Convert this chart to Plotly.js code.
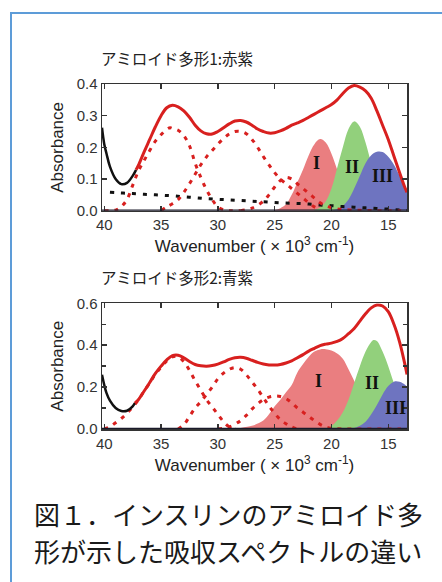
<!DOCTYPE html>
<html><head><meta charset="utf-8">
<script src="https://cdn.plot.ly/plotly-3.0.1.min.js"></script>
<style>
html,body{margin:0;padding:0;background:#fff;}
#wrap{position:relative;width:442px;height:582px;overflow:hidden;}
#chart{position:absolute;left:0;top:0;width:442px;height:582px;}
#frame{position:absolute;left:10px;top:12px;width:460px;height:600px;border-left:2px solid #5d9cd8;border-top:2px solid #5d9cd8;pointer-events:none;}
</style></head>
<body><div id="wrap"><div id="chart"></div><div id="frame"></div></div>
<script>
// ---------- Data: polymorph 1 (赤紫) ----------
const p1TotalBlackX = [40.2,40,39.8,39.5,39,38.5,38,37.5,37.2];
const p1TotalBlackY = [.262,.21,.18,.139,.1,.084,.088,.11,.129];
const p1TotalRedX = [37.2,37,36.5,36,35.5,35,34.5,34,33.5,33,32.5,32,31.5,31,30.5,30,29.5,29,28.5,28,27.5,27,26.5,26,25.5,25,24.5,24,23.5,23,22.5,22,21.5,21,20.5,20,19.5,19,18.5,18,17.5,17,16.5,16,15.5,15,14.5,14,13.5,13.35];
const p1TotalRedY = [.129,.143,.185,.225,.265,.30,.325,.333,.328,.315,.295,.27,.252,.243,.242,.25,.262,.274,.283,.285,.28,.27,.258,.25,.245,.246,.252,.26,.27,.277,.285,.295,.305,.315,.325,.335,.35,.37,.387,.395,.39,.378,.355,.315,.27,.225,.172,.12,.07,.058];
const p1AX = [40,39,38.5,38,37.5,37,36.5,36,35.5,35,34.5,34.2,34,33.5,33,32.5,32,31.5,31,30.5,30,29.5,29,28];
const p1AY = [0,.002,.013,.035,.08,.125,.158,.19,.22,.24,.257,.262,.26,.254,.237,.205,.15,.105,.066,.035,.012,.003,0,0];
const p1BX = [35,34.5,34,33.5,33,32.5,32,31.5,31,30.5,30,29.5,29,28.5,28,27.5,27,26.5,26,25.5,25,24.5,24,23.5,23,22.5,22,21.5,21];
const p1BY = [0,.012,.022,.035,.058,.085,.115,.145,.17,.19,.21,.228,.242,.25,.25,.243,.225,.2,.171,.145,.12,.1,.085,.07,.055,.04,.025,.012,.005];
const p1CX = [28,27,26,25.5,25,24.5,24,23.5,23,22.5,22,21.5,21,20.5,20,19.5,19,18,17,16,15,14,13.35];
const p1CY = [0,.008,.03,.05,.075,.095,.105,.1,.085,.07,.055,.04,.025,.015,.01,.006,.004,.002,.001,0,0,0,0];
const p1BaseX = [39.5,39,38,37,36,35,34,33,32,31,30,29,28,27,26,25,24,23,22,21,20,19,18,17,16,15,14,13.35];
const p1BaseY = [.058,.057,.055,.053,.051,.049,.047,.044,.041,.038,.036,.034,.032,.03,.028,.026,.024,.023,.021,.018,.016,.013,.011,.009,.007,.005,.002,0];
const p1IX = [25,24.5,24,23.5,23,22.5,22,21.5,21,20.5,20,19.5,19,18.5,18,17.5,17];
const p1IY = [.002,.008,.02,.05,.09,.13,.175,.21,.226,.215,.18,.13,.08,.04,.015,.005,0];
const p1IIX = [21.5,21,20.5,20,19.5,19,18.5,18,17.5,17,16.5,16,15.5,15,14.5,14,13.35];
const p1IIY = [.002,.01,.03,.07,.135,.2,.258,.282,.265,.215,.15,.09,.045,.018,.006,.001,0];
const p1IIIX = [20,19.5,19,18.5,18,17.5,17,16.5,16,15.5,15,14.5,14,13.5,13.35];
const p1IIIY = [0,.005,.015,.035,.07,.11,.15,.175,.186,.185,.17,.145,.11,.075,.065];

// ---------- Data: polymorph 2 (青紫) ----------
const p2TotalBlackX = [40.2,40,39.8,39.5,39,38.5,38,37.5,37.3];
const p2TotalBlackY = [.259,.21,.171,.135,.1,.086,.087,.108,.124];
const p2TotalRedX = [37.3,37,36.5,36,35.5,35,34.5,34,33.5,33,32.5,32,31.5,31,30.5,30,29.5,29,28.5,28,27.5,27,26.5,26,25.5,25,24.5,24,23.5,23,22.5,22,21.5,21,20.5,20,19.5,19,18.5,18,17.5,17,16.5,16,15.5,15,14.5,14,13.5,13.35];
const p2TotalRedY = [.124,.14,.18,.222,.265,.3,.33,.35,.352,.34,.322,.308,.302,.3,.303,.31,.32,.332,.34,.342,.338,.328,.318,.31,.306,.305,.308,.315,.325,.34,.355,.372,.385,.398,.405,.41,.418,.432,.455,.48,.515,.55,.578,.592,.587,.56,.5,.415,.3,.26];
const p2AX = [40,39.5,39,38.5,38,37.5,37,36.5,36,35.5,35,34.5,34,33.5,33,32.5,32,31.5,31,30.5,30,29.5,29,28.5];
const p2AY = [0,.01,.03,.05,.075,.105,.14,.18,.22,.262,.295,.325,.345,.345,.322,.28,.23,.185,.14,.105,.07,.035,.01,0];
const p2BX = [33.5,33,32.5,32,31.5,31,30.5,30,29.5,29,28.5,28,27.5,27,26.5,26,25.5,25,24.5,24,23.5,23];
const p2BY = [0,.02,.06,.1,.13,.165,.2,.24,.267,.285,.293,.285,.259,.225,.19,.15,.11,.075,.045,.025,.01,0];
const p2CX = [30,29,28,27.5,27,26.5,26,25.5,25,24.5,24,23.5,23,22.5,22,21.5,21,20.5,20,19,18,17,16,15,14,13.35];
const p2CY = [0,.01,.04,.065,.095,.12,.14,.152,.157,.155,.145,.125,.1,.08,.06,.04,.022,.01,.004,0,0,0,0,0,0,0];
const p2IX = [28,27,26,25.5,25,24.5,24,23.5,23,22.5,22,21.5,21,20.5,20,19.5,19,18.5,18,17.5,17,16.5,16,15.5,15,14];
const p2IY = [.005,.015,.04,.07,.108,.14,.175,.21,.27,.31,.345,.37,.38,.381,.375,.36,.335,.285,.23,.17,.115,.07,.04,.02,.008,0];
const p2IIX = [21,20.5,20,19.5,19,18.5,18,17.5,17,16.5,16.3,16,15.5,15,14.5,14,13.5,13.35];
const p2IIY = [0,.005,.015,.04,.08,.14,.22,.3,.37,.415,.425,.42,.37,.3,.22,.15,.09,.075];
const p2IIIX = [18.5,18,17.5,17,16.5,16,15.5,15,14.5,14,13.5,13.35];
const p2IIIY = [0,.005,.015,.035,.07,.115,.165,.205,.226,.225,.21,.203];

// ---------- Text ----------
const title1 = 'アミロイド多形1:赤紫';
const title2 = 'アミロイド多形2:青紫';
const xTitle = 'Wavenumber ( × 10<sup>3</sup> cm<sup>-1</sup>)';
const yTitle = 'Absorbance';
const caption1 = '図１．インスリンのアミロイド多';
const caption2 = '形が示した吸収スペクトルの違い';
const xTicks = [40,35,30,25,20,15];
const romanLabels = ['I','II','III'];
const p1RomanPos = [[21.3,.15],[18.2,.139],[15.5,.108]];
const p2RomanPos = [[21.1,.227],[16.4,.219],[14.4,.1]];

// ---------- Styling ----------
const RED = '#d8201f', BLACK = '#111';
const FILL = ['#ea7e80','#92d07c','#6e74c0'];
const W = 442, H = 582, ML = 102, MR = 35, MT = 84, MB = 153;
const PW = W-ML-MR, PH = H-MT-MB;
const px = x => (x-ML)/PW, py = y => (H-MB-y)/PH;

function fillTrace(x,y,c,xa,ya){return {x,y,xaxis:xa,yaxis:ya,type:'scatter',mode:'lines',fill:'tozeroy',fillcolor:c,line:{width:0,shape:'spline',color:c},hoverinfo:'skip'};}
function lineTrace(x,y,c,w,dash,xa,ya){return {x,y,xaxis:xa,yaxis:ya,type:'scatter',mode:'lines',line:{color:c,width:w,dash:dash,shape:'spline'},hoverinfo:'skip'};}

const dashRed = '4px,6px', dashBlack = '4px,7px';
const traces = [
  fillTrace(p1IX,p1IY,FILL[0],'x','y'),
  fillTrace(p1IIX,p1IIY,FILL[1],'x','y'),
  fillTrace(p1IIIX,p1IIIY,FILL[2],'x','y'),
  lineTrace(p1BaseX,p1BaseY,BLACK,3,dashBlack,'x','y'),
  lineTrace(p1AX,p1AY,RED,3,dashRed,'x','y'),
  lineTrace(p1BX,p1BY,RED,3,dashRed,'x','y'),
  lineTrace(p1CX,p1CY,RED,3,dashRed,'x','y'),
  lineTrace(p1TotalBlackX,p1TotalBlackY,BLACK,2.5,'solid','x','y'),
  lineTrace(p1TotalRedX,p1TotalRedY,RED,3,'solid','x','y'),
  fillTrace(p2IX,p2IY,FILL[0],'x2','y2'),
  fillTrace(p2IIX,p2IIY,FILL[1],'x2','y2'),
  fillTrace(p2IIIX,p2IIIY,FILL[2],'x2','y2'),
  lineTrace(p2AX,p2AY,RED,3,dashRed,'x2','y2'),
  lineTrace(p2BX,p2BY,RED,3,dashRed,'x2','y2'),
  lineTrace(p2CX,p2CY,RED,3,dashRed,'x2','y2'),
  lineTrace(p2TotalBlackX,p2TotalBlackY,BLACK,2.5,'solid','x2','y2'),
  lineTrace(p2TotalRedX,p2TotalRedY,RED,3,'solid','x2','y2')
];

const tickFont = {family:'Liberation Sans, Arial, sans-serif',size:15,color:'#333'};
const titleFont = {family:'Liberation Sans, Arial, sans-serif',size:17,color:'#222'};
function xAxis(anchor){return {domain:[0,1],anchor,range:[40.2,13.35],tickvals:xTicks,ticks:'inside',ticklen:5,tickwidth:1.5,tickcolor:'#333',
  showline:true,linecolor:'#333',linewidth:1.5,mirror:'ticks',showgrid:false,zeroline:false,tickfont:tickFont,
  title:{text:xTitle,font:titleFont,standoff:8}};}
const layout = {
  width:W,height:H,margin:{l:ML,r:MR,t:MT,b:MB},paper_bgcolor:'#fff',plot_bgcolor:'#fff',showlegend:false,
  xaxis:xAxis('y'),
  xaxis2:xAxis('y2'),
  yaxis:{domain:[py(210.7),1],anchor:'x',range:[0,0.4],dtick:0.1,tickformat:'.1f',ticks:'inside',ticklen:5,tickwidth:1.5,tickcolor:'#333',
    showline:true,linecolor:'#333',linewidth:1.5,mirror:'ticks',showgrid:false,zeroline:false,tickfont:tickFont,
    title:{text:yTitle,font:titleFont,standoff:8}},
  yaxis2:{domain:[0,py(303.3)],anchor:'x2',range:[0,0.6],dtick:0.2,tickformat:'.1f',ticks:'inside',ticklen:5,tickwidth:1.5,tickcolor:'#333',
    minor:{dtick:0.1,ticks:'inside',ticklen:4,tickwidth:1.5,tickcolor:'#333'},
    showline:true,linecolor:'#333',linewidth:1.5,mirror:'ticks',showgrid:false,zeroline:false,tickfont:tickFont,
    title:{text:yTitle,font:titleFont,standoff:8}},
  shapes:[
    {type:'line',xref:'x domain',x0:0,x1:1,yref:'y',y0:0,y1:0,line:{color:'#1a1a2a',width:2.5}},
    {type:'line',xref:'x2 domain',x0:0,x1:1,yref:'y2',y0:0,y1:0,line:{color:'#1a1a2a',width:2.5}}
  ],
  annotations:[
    {text:title1,xref:'paper',yref:'paper',x:px(99),y:py(58),xanchor:'left',yanchor:'middle',showarrow:false,font:{family:'Noto Sans CJK JP',size:15.5,color:'#222'}},
    {text:title2,xref:'paper',yref:'paper',x:px(99),y:py(277),xanchor:'left',yanchor:'middle',showarrow:false,font:{family:'Noto Sans CJK JP',size:15.5,color:'#222'}},
    {text:caption1,xref:'paper',yref:'paper',x:px(32),y:py(513),xanchor:'left',yanchor:'middle',showarrow:false,font:{family:'Noto Sans CJK JP',size:26,color:'#1a1a1a'}},
    {text:caption2,xref:'paper',yref:'paper',x:px(32),y:py(550),xanchor:'left',yanchor:'middle',showarrow:false,font:{family:'Noto Sans CJK JP',size:26,color:'#1a1a1a'}}
  ]
};
romanLabels.forEach((t,i)=>{
  layout.annotations.push({text:'<b>'+t+'</b>',xref:'x',yref:'y',x:p1RomanPos[i][0],y:p1RomanPos[i][1],showarrow:false,font:{family:'Liberation Serif, serif',size:18,color:'#111'}});
  layout.annotations.push({text:'<b>'+t+'</b>',xref:'x2',yref:'y2',x:p2RomanPos[i][0],y:p2RomanPos[i][1],showarrow:false,font:{family:'Liberation Serif, serif',size:18,color:'#111'}});
});
Plotly.newPlot('chart',traces,layout,{staticPlot:true,displayModeBar:false});
</script></body></html>
